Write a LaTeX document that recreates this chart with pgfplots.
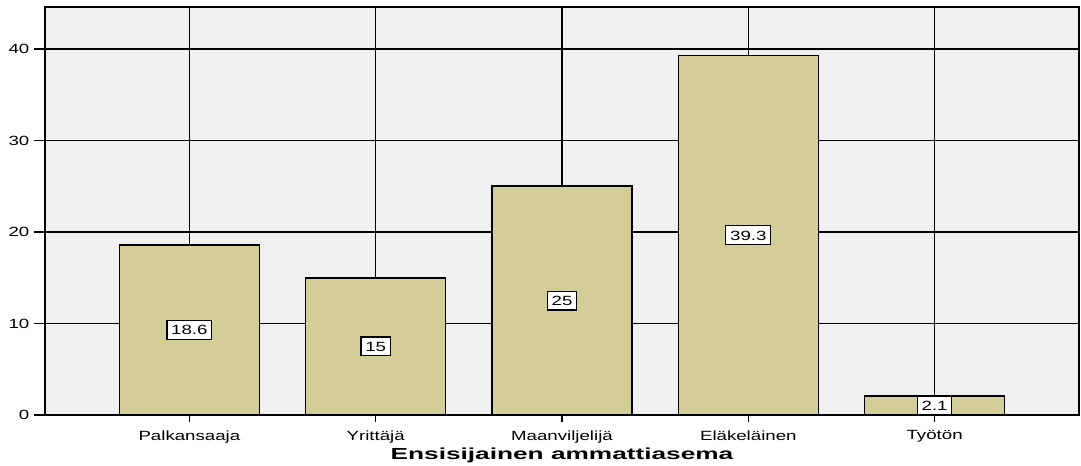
\documentclass[border=0pt]{standalone}
\usepackage{fontspec}
\setmainfont{Liberation Sans}
\usepackage{graphicx}
\usepackage{pgfplots}
\usepackage{pgfplotstable}
\pgfplotsset{compat=1.18}
\definecolor{bg}{RGB}{240,240,240}
\definecolor{barc}{RGB}{211,206,151}
\newcommand\sx[1]{\scalebox{1.40}[1]{#1}}
\pgfplotstableread{
x v
0 18.6
1 15
2 25
3 39.3
4 2.1
}\datatable
\begin{document}
\begin{tikzpicture}
\path[use as bounding box] (-33.75pt,-38.25pt) rectangle (777pt,311.25pt);
\begin{axis}[
  at={(0,0)}, anchor=south west,
  scale only axis, width=775.5pt, height=306pt,
  xmin=-0.775, xmax=4.775, ymin=0, ymax=44.6,
  axis background/.style={fill=bg},
  xtick={0,1,2,3,4},
  xticklabels={\sx{Palkansaaja},\sx{Yrittäjä},\sx{Maanviljelijä},\sx{Eläkeläinen},\sx{Työtön}},
  ytick={0,10,20,30,40},
  yticklabel={\sx{\pgfmathprintnumber[assume math mode=true]{\tick}}},
  tick align=outside, xtick pos=left, ytick pos=left,
  major tick length=8.25pt,
  xtick style={/pgfplots/major tick length=5pt},
  grid=major, major grid style={black, line width=1.2pt},
  axis line style={black, line width=1.2pt},
  tick style={black, line width=1.2pt},
  ticklabel style={font=\fontsize{10}{12}\selectfont},
  xlabel={\scalebox{1.64}[1]{\bfseries Ensisijainen ammattiasema}},
  xlabel style={font=\fontsize{12}{14}\selectfont, at={(axis description cs:0.5,0)}, anchor=base, yshift=-33.75pt},
]
\addplot[ybar, bar width=105pt, fill=barc, draw=black, line width=1.2pt] table[x=x,y=v]{\datatable};
\addplot[draw=none, mark=none, point meta=explicit,
  nodes near coords={\sx{\pgfmathprintnumber[assume math mode=true]{\pgfplotspointmeta}}},
  nodes near coords align=center,
  every node near coord/.append style={fill=white, draw=black, line width=0.9pt, inner xsep=3.2pt, inner ysep=3.4pt, text height=7.3pt, text depth=0pt, font=\fontsize{10}{12}\selectfont, anchor=center}]
  table[x=x, y expr=\thisrow{v}/2, meta=v]{\datatable};
\end{axis}
\end{tikzpicture}
\end{document}
